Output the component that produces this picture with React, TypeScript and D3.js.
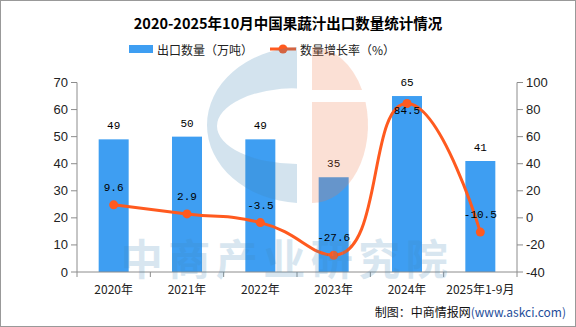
import React from "react";
import * as d3 from "d3";

const categories = ["2020年", "2021年", "2022年", "2023年", "2024年", "2025年1-9月"];
const exportVolume = [49, 50, 49, 35, 65, 41];
const growthRate = [9.6, 2.9, -3.5, -27.6, 84.5, -10.5];
const leftTicks = [0, 10, 20, 30, 40, 50, 60, 70];
const rightTicks = [-40, -20, 0, 20, 40, 60, 80, 100];

const W = 576;
const H = 327;
const BAR = "#3E9EF2";
const LINE = "#FF5A1F";
const AXIS = "#8c8c8c";
const CJK = "'Noto Sans CJK SC', 'Noto Sans', sans-serif";
const MONO = "'Liberation Mono', 'DejaVu Sans Mono', monospace";

function echartsSmooth(pts: [number, number][], smooth = 0.5): string {
  const p = d3.path();
  let prevX = 0, prevY = 0, cpx0 = 0, cpy0 = 0;
  const n = pts.length;
  for (let k = 0; k < n; k++) {
    const [x, y] = pts[k];
    if (k === 0) {
      p.moveTo(x, y);
      cpx0 = x;
      cpy0 = y;
    } else {
      let cpx1: number, cpy1: number, nextCpx0 = x, nextCpy0 = y;
      if (k + 1 >= n) {
        cpx1 = x;
        cpy1 = y;
      } else {
        const [nextX, nextY] = pts[k + 1];
        let vx = nextX - prevX;
        let vy = nextY - prevY;
        const dx0 = x - prevX, dy0 = y - prevY, dx1 = nextX - x, dy1 = nextY - y;
        const lenPrev = Math.sqrt(dx0 * dx0 + dy0 * dy0);
        const lenNext = Math.sqrt(dx1 * dx1 + dy1 * dy1);
        const ratio = lenNext / (lenNext + lenPrev);
        nextCpx0 = x + vx * smooth * ratio;
        nextCpy0 = y + vy * smooth * ratio;
        nextCpx0 = Math.min(nextCpx0, Math.max(nextX, x));
        nextCpy0 = Math.min(nextCpy0, Math.max(nextY, y));
        nextCpx0 = Math.max(nextCpx0, Math.min(nextX, x));
        nextCpy0 = Math.max(nextCpy0, Math.min(nextY, y));
        vx = nextCpx0 - x;
        vy = nextCpy0 - y;
        cpx1 = x - (vx * lenPrev) / lenNext;
        cpy1 = y - (vy * lenPrev) / lenNext;
        cpx1 = Math.min(cpx1, Math.max(prevX, x));
        cpy1 = Math.min(cpy1, Math.max(prevY, y));
        cpx1 = Math.max(cpx1, Math.min(prevX, x));
        cpy1 = Math.max(cpy1, Math.min(prevY, y));
        vx = x - cpx1;
        vy = y - cpy1;
        nextCpx0 = x + (vx * lenNext) / lenPrev;
        nextCpy0 = y + (vy * lenNext) / lenPrev;
      }
      p.bezierCurveTo(cpx0, cpy0, cpx1, cpy1, x, y);
      cpx0 = nextCpx0;
      cpy0 = nextCpy0;
    }
    prevX = x;
    prevY = y;
  }
  return p.toString();
}

export default function App() {
  const left = 77, right = 517, top = 82.5, bottom = 272;
  const x = d3.scaleBand<string>().domain(categories).range([left, right]);
  const yL = d3.scaleLinear().domain([0, 70]).range([bottom, top]);
  const yR = d3.scaleLinear().domain([-40, 100]).range([bottom, top]);
  const cx = (c: string) => (x(c) as number) + x.bandwidth() / 2;
  const barW = 30;

  const pts: [number, number][] = categories.map((c, i) => [cx(c), yR(growthRate[i])]);
  const linePath = echartsSmooth(pts, 0.5);

  // watermark logo geometry
  const lcx = 304, lcy = 125;
  const blueOuter = `M297,${lcy - 78} A97,78 0 0 0 ${lcx - 97},${lcy} A97,78 0 0 0 297,${lcy + 78} Z`;
  const blueHole = `M297,${lcy - 37} A80,38 0 0 0 ${297 - 80},${lcy + 1} A80,38 0 0 0 297,${lcy + 39} Z`;
  const ox = (yy: number) => 312 + 56 * Math.sqrt(1 - ((yy - lcy) / 78) ** 2);
  const orangeUpper = `M312,${lcy - 78} A56,78 0 0 1 ${ox(90)},90 L312,90 Z`;
  const orangeLower = `M312,102 L${ox(102)},102 A56,78 0 0 1 312,${lcy + 78} Z`;

  const boundaries = d3.range(categories.length + 1).map((i) => left + i * x.step());

  return (
    <svg
      width={W}
      height={H}
      style={{ position: "absolute", left: 0, top: 0, background: "#fff" }}
      fontFamily={CJK}
    >
      <rect x={0.5} y={0.5} width={W - 1} height={H - 1} fill="#fff" stroke="#999" />
      <text x={W / 2} y={29} textAnchor="middle" fontSize={14.5} fontWeight="bold" fill="#000">
        2020-2025年10月中国果蔬汁出口数量统计情况
      </text>

      {/* legend */}
      <rect x={129} y={45} width={24} height={8} fill={BAR} />
      <text x={157} y={49} dominantBaseline="central" fontSize={12} fill="#222">
        出口数量（万吨）
      </text>
      <line x1={270} x2={296} y1={49} y2={49} stroke={LINE} strokeWidth={3} />
      <circle cx={283} cy={49} r={4.5} fill={LINE} />
      <text x={300} y={49} dominantBaseline="central" fontSize={12} fill="#222">
        数量增长率（%）
      </text>

      {/* bars */}
      {categories.map((c, i) => (
        <rect
          key={c}
          x={cx(c) - barW / 2}
          y={yL(exportVolume[i])}
          width={barW}
          height={bottom - yL(exportVolume[i])}
          fill={BAR}
        />
      ))}
      {categories.map((c, i) => (
        <text key={c} x={cx(c)} y={yL(exportVolume[i]) - 10} textAnchor="middle" fontSize={11} fontFamily={MONO} fill="#000">
          {exportVolume[i]}
        </text>
      ))}

      {/* axes */}
      <line x1={left} x2={left} y1={top} y2={bottom} stroke={AXIS} />
      <line x1={right} x2={right} y1={top} y2={bottom} stroke={AXIS} />
      <line x1={left} x2={right} y1={bottom} y2={bottom} stroke={AXIS} />
      {leftTicks.map((t) => (
        <g key={"l" + t}>
          <line x1={left - 6} x2={left} y1={yL(t)} y2={yL(t)} stroke={AXIS} />
          <text x={left - 9} y={yL(t)} textAnchor="end" dominantBaseline="central" fontSize={13} fontFamily="'Liberation Sans', sans-serif" fill="#222">
            {t}
          </text>
        </g>
      ))}
      {rightTicks.map((t) => (
        <g key={"r" + t}>
          <line x1={right} x2={right + 6} y1={yR(t)} y2={yR(t)} stroke={AXIS} />
          <text x={right + 9} y={yR(t)} dominantBaseline="central" fontSize={13} fontFamily="'Liberation Sans', sans-serif" fill="#222">
            {t}
          </text>
        </g>
      ))}
      {boundaries.map((b, i) => (
        <line key={"xt" + i} x1={b} x2={b} y1={bottom} y2={bottom + 5} stroke={AXIS} />
      ))}
      {categories.map((c) => (
        <text key={"xl" + c} x={cx(c)} y={288} textAnchor="middle" dominantBaseline="central" fontSize={12} fill="#222">
          {c}
        </text>
      ))}

      {/* line */}
      <path d={linePath} fill="none" stroke={LINE} strokeWidth={3} />
      {pts.map(([px, py], i) => (
        <circle key={"p" + i} cx={px} cy={py} r={4.5} fill={LINE} />
      ))}
      {pts.map(([px, py], i) => {
        const barLabelY = yL(exportVolume[i]) - 10;
        let ly = py - 14;
        if (Math.abs(ly - barLabelY) < 14) ly = py + 11;
        return (
          <text key={"pl" + i} x={px} y={ly} textAnchor="middle" fontSize={11} fontFamily={MONO} fill="#000">
            {growthRate[i]}
          </text>
        );
      })}

      {/* watermark */}
      <path d={`${blueOuter} ${blueHole}`} fill="rgb(65,135,183)" fillRule="evenodd" opacity={0.23} />
      <path d={orangeUpper} fill="rgb(239,122,74)" opacity={0.23} />
      <path d={orangeLower} fill="rgb(239,122,74)" opacity={0.23} />
      <text x={287} y={275} textAnchor="middle" fontSize={42} fontWeight="bold" letterSpacing={5.5} fill="rgb(65,135,183)" opacity={0.2}>
        中商产业研究院
      </text>

      {/* footer */}
      <text x={566} y={317} textAnchor="end" fontSize={12} fill="#111">
        制图：中商情报网<tspan fill="#1F4E9A">(www.askci.com)</tspan>
      </text>
    </svg>
  );
}
